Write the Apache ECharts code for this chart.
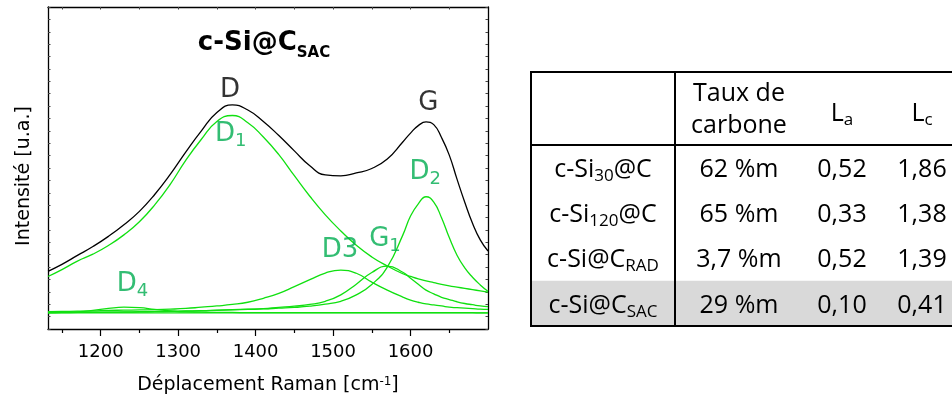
<!DOCTYPE html>
<html>
<head>
<meta charset="utf-8">
<script src="https://cdn.jsdelivr.net/npm/echarts@6/dist/echarts.min.js"></script>
<style>
html,body{margin:0;padding:0;background:#fff;}
#chart{width:952px;height:396px;}
</style>
</head>
<body>
<div id="chart"></div>
<script>
// ---------------- data ----------------
const wavenumber = [1132,1150,1170,1190,1210,1230,1250,1270,1290,1310,1330,1350,1370,1390,1410,1430,1450,1470,1490,1510,1530,1550,1570,1590,1600,1610,1620,1630,1640,1650,1660,1670,1680,1690,1700];
const spectrum = [233,261,297,333,374,421,475,544,625,715,800,874,905,884,838,781,719,659,622,618,630,648,686,755,791,821,836,825,773,702,605,512,427,360,315];
const fitD1 = [212,240,274,302,337,380,433,502,585,682,766,838,862,833,775,704,619,536,461,396,338,291,254,223,212,202,194,187,180,174,169,164,159,154,149];
const fitD2 = [66,66,67,67,68,68,69,70,71,72,73,75,77,79,81,84,87,92,100,112,138,180,250,379,456,505,534,512,449,369,298,247,209,178,152];
const fitD3 = [70,71,72,73,75,76,77,78,80,83,88,93,99,108,124,144,171,199,226,238,225,189,157,129,117,108,101,97,93,88,86,84,82,80,79];
const fitG1 = [66,67,67,68,68,69,70,71,72,73,74,76,78,80,82,87,92,99,112,138,181,228,254,229,205,181,157,142,128,119,110,103,98,93,90];
const fitD4 = [66,67,69,75,83,88,86,79,73,69,68,67,67,66,66,66,66,66,66,66,66,66,66,66,66,66,66,66,66,66,66,66,66,65,65];
const baselineX = [1132, 1700];
const baselineY = [65, 65];

const xTickLabels = [1200, 1300, 1400, 1500, 1600];
const xMinorTicks = [1150, 1250, 1350, 1450, 1550, 1650];
const xTopTicks = [1150, 1200, 1250, 1300, 1350, 1400, 1450, 1500, 1550, 1600, 1650];

const peakMain = ['D', 'G', 'D', 'D', 'D3', 'G', 'D'];
const peakSub  = ['',  '',  '1', '2', '',   '1', '4'];
const peakIsFit = [false, false, true, true, true, true, true];
const peakX = [1367, 1623, 1368, 1619, 1509, 1567, 1241];
const peakY = [962, 912, 786, 633, 318, 363, 181];

const titleMain = 'c-Si@C';
const titleSub = 'SAC';

const tableHeader = ['', 'Taux de\ncarbone', 'L{s|a}', 'L{s|c}'];
const tableSamples = ['c-Si{s|30}@C', 'c-Si{s|120}@C', 'c-Si@C{s|RAD}', 'c-Si@C{s|SAC}'];
const tableCarbon = ['62 %m', '65 %m', '3,7 %m', '29 %m'];
const tableLa = ['0,52', '0,33', '0,52', '0,10'];
const tableLc = ['1,86', '1,38', '1,39', '0,41'];
const highlightedRow = 3;

// ---------------- style ----------------
const GREEN = '#10E010';
const LABEL_GREEN = '#00AD50';
const PF = 'DejaVu Sans';
const TF = 'Open Sans';

const chart = echarts.init(document.getElementById('chart'), null, {renderer: 'canvas'});

function pairs(ys) { return wavenumber.map((x, i) => [x, ys[i]]); }
function lineSeries(name, data, color, z) {
  return {
    type: 'line', name: name, data: data, xAxisIndex: 0, yAxisIndex: 0,
    smooth: 0.5, showSymbol: false, symbol: 'none',
    lineStyle: {color: color, width: 1.3}, z: z, silent: true, animation: false
  };
}

const peakData = peakMain.map((m, i) => {
  const mk = peakIsFit[i] ? 'g' : 'k';
  const txt = '{' + mk + '|' + m + '}' + (peakSub[i] ? '{' + mk + 's|' + peakSub[i] + '}' : '');
  return {value: [peakX[i], peakY[i]], label: {formatter: txt, color: peakIsFit[i] ? LABEL_GREEN : '#000'}};
});

// table graphics
const T = {left: 531, top: 72, right: 953, headBottom: 145, rowH: 45.25, divider: 675,
           cols: [603, 739, 842, 922]};
const TFS = 25;
const tableRich = {
  s: {fontSize: 17, fontFamily: TF, lineHeight: 17, padding: [13, 0, 0, 0], fill: '#000', color: '#000'}
};
const tableGraphics = [];
const tBottom = T.headBottom + T.rowH * tableSamples.length;
tableGraphics.push({
  type: 'rect', silent: true, z: 1,
  shape: {x: T.left, y: T.headBottom + T.rowH * highlightedRow, width: T.right - T.left, height: T.rowH},
  style: {fill: '#D9D9D9'}
});
function tText(x, y, text, lh) {
  return {
    type: 'text', silent: true, z: 5,
    style: {x: x, y: y, text: text, align: 'center', verticalAlign: 'middle',
            fontSize: TFS, fontFamily: TF, lineHeight: lh || 30,
            fill: '#000', rich: tableRich}
  };
}
tableHeader.forEach((h, c) => {
  if (h) tableGraphics.push(tText(T.cols[c], c === 1 ? 110 : 114, h, 32));
});
tableSamples.forEach((s, r) => {
  const cy = T.headBottom + T.rowH * (r + 0.5) + 2;
  tableGraphics.push(tText(T.cols[0], cy, s));
  tableGraphics.push(tText(T.cols[1], cy, tableCarbon[r]));
  tableGraphics.push(tText(T.cols[2], cy, tableLa[r]));
  tableGraphics.push(tText(T.cols[3], cy, tableLc[r]));
});
function tLine(x1, y1, x2, y2) {
  return {type: 'line', silent: true, z: 6, shape: {x1: x1, y1: y1, x2: x2, y2: y2},
          style: {stroke: '#000', lineWidth: 2}};
}
tableGraphics.push(tLine(T.left, T.top, T.right, T.top));
tableGraphics.push(tLine(T.left, tBottom, T.right, tBottom));
tableGraphics.push(tLine(T.left, T.headBottom, T.right, T.headBottom));
tableGraphics.push(tLine(T.left, T.top - 1, T.left, tBottom + 1));
tableGraphics.push(tLine(T.divider, T.top - 1, T.divider, tBottom + 1));

// title
tableGraphics.push({
  type: 'text', silent: true, z: 10,
  style: {
    x: 264, y: 43, align: 'center', verticalAlign: 'middle',
    text: '{m|' + titleMain + '}{s|' + titleSub + '}',
    rich: {
      m: {fontSize: 26, fontWeight: 'bold', fontFamily: PF, lineHeight: 32, fill: '#000', color: '#000'},
      s: {fontSize: 15, fontWeight: 'bold', fontFamily: PF, lineHeight: 15, padding: [21, 0, 0, 0], fill: '#000', color: '#000'}
    }
  }
});

const gridRect = {left: 48, right: 464, top: 7, bottom: 67, containLabel: false, outerBoundsMode: 'none'};
const axisBlack = {color: '#000', width: 1.3};

const option = {
  animation: false,
  backgroundColor: '#fff',
  grid: [Object.assign({}, gridRect), Object.assign({}, gridRect)],
  xAxis: [
    {
      type: 'value', gridIndex: 0, position: 'bottom', min: 1132, max: 1700,
      axisLine: {show: true, onZero: false, lineStyle: axisBlack},
      axisTick: {show: true, inside: false, length: 7, customValues: xTickLabels, lineStyle: {color: '#000', width: 1.2}},
      axisLabel: {show: true, customValues: xTickLabels, margin: 14, color: '#000', fontSize: 18, fontFamily: PF,
                  formatter: v => String(v)},
      splitLine: {show: false},
      name: 'Déplacement Raman [cm{sup|-1}]',
      nameLocation: 'middle', nameGap: 44,
      nameTextStyle: {
        color: '#000', fontSize: 19, fontFamily: PF, lineHeight: 24,
        rich: {sup: {fontSize: 12, fontFamily: PF, color: '#000', lineHeight: 12, padding: [0, 0, 7, 0]}}
      }
    },
    {
      type: 'value', gridIndex: 0, position: 'top', min: 1132, max: 1700,
      axisLine: {show: true, onZero: false, lineStyle: axisBlack},
      axisTick: {show: true, inside: true, length: 2.5, customValues: xTopTicks, lineStyle: {color: '#444', width: 1}},
      axisLabel: {show: false}, splitLine: {show: false}
    },
    {
      type: 'value', gridIndex: 1, position: 'bottom', min: 1132, max: 1700,
      axisLine: {show: false, onZero: false},
      axisTick: {show: true, inside: false, length: 4, customValues: xMinorTicks, lineStyle: {color: '#000', width: 1.2}},
      axisLabel: {show: false}, splitLine: {show: false}
    }
  ],
  yAxis: [
    {
      type: 'value', gridIndex: 0, position: 'left', min: 0, max: 1300, interval: 50,
      axisLine: {show: true, onZero: false, lineStyle: axisBlack},
      axisTick: {show: true, inside: true, length: 2.5, lineStyle: {color: '#444', width: 1}},
      axisLabel: {show: false}, splitLine: {show: false},
      name: 'Intensité [u.a.]', nameLocation: 'middle', nameGap: 14,
      nameTextStyle: {color: '#000', fontSize: 19, fontFamily: PF, padding: [0, 16, 0, 0]}
    },
    {
      type: 'value', gridIndex: 0, position: 'right', min: 0, max: 1300, interval: 50,
      axisLine: {show: true, onZero: false, lineStyle: axisBlack},
      axisTick: {show: true, inside: true, length: 2.5, lineStyle: {color: '#444', width: 1}},
      axisLabel: {show: false}, splitLine: {show: false}
    },
    {
      type: 'value', gridIndex: 1, min: 0, max: 1300, show: false
    }
  ],
  series: [
    lineSeries('Baseline', baselineX.map((x, i) => [x, baselineY[i]]), GREEN, 2),
    lineSeries('D4', pairs(fitD4), GREEN, 2),
    lineSeries('D3', pairs(fitD3), GREEN, 2),
    lineSeries('G1', pairs(fitG1), GREEN, 2),
    lineSeries('D2', pairs(fitD2), GREEN, 2),
    lineSeries('D1', pairs(fitD1), GREEN, 2),
    lineSeries('Spectre', pairs(spectrum), '#000', 3),
    {
      type: 'scatter', xAxisIndex: 0, yAxisIndex: 0, data: peakData,
      symbolSize: 2, itemStyle: {color: 'rgba(0,0,0,0)'}, silent: true, z: 5,
      label: {
        show: true, position: 'inside', textBorderWidth: 0, textShadowBlur: 0,
        rich: {
          k: {fontSize: 26, fontFamily: PF, color: '#000', lineHeight: 32, textBorderWidth: 0},
          g: {fontSize: 26, fontFamily: PF, color: LABEL_GREEN, lineHeight: 32, textBorderWidth: 0},
          gs: {fontSize: 18, fontFamily: PF, color: LABEL_GREEN, lineHeight: 18, padding: [15, 0, 0, 0], textBorderWidth: 0},
          ks: {fontSize: 18, fontFamily: PF, color: '#000', lineHeight: 18, padding: [15, 0, 0, 0], textBorderWidth: 0}
        }
      }
    }
  ],
  graphic: tableGraphics
};
chart.setOption(option);
</script>
</body>
</html>
